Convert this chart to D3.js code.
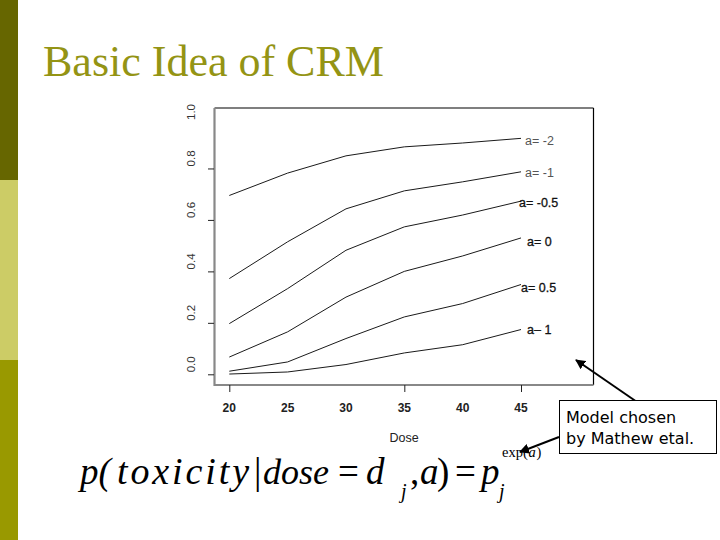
<!DOCTYPE html>
<html><head><meta charset="utf-8">
<script src="https://cdn.jsdelivr.net/npm/d3@7"></script>
<style>body{margin:0;background:#fff}svg{display:block}</style>
</head><body>
<script>
// ---- data ----
const doses = [20, 25, 30, 35, 40, 45];
const seriesNames = ["a= -2", "a= -1", "a= -0.5", "a= 0", "a= 0.5", "a\u2013 1"];
const sA_m2  = [0.695, 0.782, 0.849, 0.884, 0.899, 0.917];
const sA_m1  = [0.372, 0.515, 0.643, 0.713, 0.748, 0.787];
const sA_m05 = [0.197, 0.333, 0.482, 0.573, 0.619, 0.673];
const sA_0   = [0.067, 0.165, 0.300, 0.400, 0.460, 0.530];
const sA_05  = [0.012, 0.048, 0.139, 0.223, 0.275, 0.349];
const sA_1   = [0.001, 0.009, 0.038, 0.083, 0.115, 0.174];
const yTickLabels = ["0.0", "0.2", "0.4", "0.6", "0.8", "1.0"];
const yTickValues = [0, 0.2, 0.4, 0.6, 0.8, 1.0];
const xTickMarks = [20, 35, 45];

const allSeries = [sA_m2, sA_m1, sA_m05, sA_0, sA_05, sA_1];

const W = 720, H = 540;
const svg = d3.select("body").append("svg").attr("width", W).attr("height", H);

// left decorative bar
const bands = [{y0:0,y1:180,c:"#666600"},{y0:180,y1:360,c:"#CCCC66"},{y0:360,y1:540,c:"#999900"}];
svg.selectAll("rect.band").data(bands).enter().append("rect")
  .attr("x",0).attr("width",18).attr("y",d=>d.y0).attr("height",d=>d.y1-d.y0).attr("fill",d=>d.c);

// title
svg.append("text").attr("x",43).attr("y",76)
  .attr("font-family","'Liberation Serif','Times New Roman',serif").attr("font-size",44)
  .attr("fill","#949414").text("Basic Idea of CRM");

// scales
const x = d3.scaleLinear().domain([20,45]).range([229.3,521]);
const y = d3.scaleLinear().domain([0,1]).range([374.3,117]);

// plot box
const box = {l:214.5,r:593.5,t:108,b:385};
svg.append("line").attr("x1",box.l).attr("x2",box.r).attr("y1",box.t).attr("y2",box.t).attr("stroke","#000").attr("stroke-width",1.2);
svg.append("line").attr("x1",box.r).attr("x2",box.r).attr("y1",box.t).attr("y2",box.b).attr("stroke","#000").attr("stroke-width",1.2);
svg.append("line").attr("x1",box.l).attr("x2",box.l).attr("y1",box.t).attr("y2",box.b+1).attr("stroke","#888").attr("stroke-width",2.2);
svg.append("line").attr("x1",box.l).attr("x2",box.r).attr("y1",box.b).attr("y2",box.b).attr("stroke","#888").attr("stroke-width",2.2);

// y axis ticks
const yAxis = d3.axisLeft(y).tickValues(yTickValues.slice(0,5)).tickSize(6).tickFormat("");
const gy = svg.append("g").attr("transform",`translate(${box.l-0.5},0)`).call(yAxis);
gy.select(".domain").remove();
gy.selectAll(".tick line").attr("stroke","#222");

// y tick labels (rotated), clipped at top
svg.append("clipPath").attr("id","yclip").append("rect").attr("x",150).attr("y",104).attr("width",60).attr("height",320);
svg.append("g").attr("clip-path","url(#yclip)")
  .selectAll("text").data(yTickValues).enter().append("text")
  .attr("transform",(d)=>`translate(191,${y(d)-(d===1?5:10)}) rotate(-90)`)
  .attr("text-anchor","middle").attr("dy","0.35em")
  .attr("font-family","'Liberation Sans',Arial,sans-serif").attr("font-size",11.5)
  .attr("fill","#333").text((d,i)=>yTickLabels[i]);

// x axis tick marks
const xAxis = d3.axisBottom(x).tickValues(xTickMarks).tickSize(7).tickFormat("");
const gx = svg.append("g").attr("transform",`translate(0,${box.b})`).call(xAxis);
gx.select(".domain").remove();
gx.selectAll(".tick line").attr("stroke","#222");

// x tick labels
svg.append("g").selectAll("text").data(doses).enter().append("text")
  .attr("x",d=>x(d)).attr("y",412).attr("text-anchor","middle")
  .attr("font-family","'Liberation Sans',Arial,sans-serif").attr("font-size",12)
  .attr("font-weight","bold").attr("fill","#222").text(d=>d);

svg.append("text").attr("x",404).attr("y",442).attr("text-anchor","middle")
  .attr("font-family","'Liberation Sans',Arial,sans-serif").attr("font-size",12.5)
  .attr("fill","#222").text("Dose");

// lines
const line = d3.line().x((d,i)=>x(doses[i])).y(d=>y(d));
svg.append("g").selectAll("path").data(allSeries).enter().append("path")
  .attr("d",line).attr("fill","none").attr("stroke","#1a1a1a").attr("stroke-width",1);

// series labels
const labelPos = [{x:525,y:141,c:"#555",b:false},{x:525,y:173,c:"#555",b:false},
  {x:519,y:203,c:"#111",b:true},{x:527,y:242,c:"#111",b:true},
  {x:521,y:288,c:"#111",b:true},{x:527,y:330,c:"#111",b:true}];
svg.append("g").selectAll("text").data(seriesNames).enter().append("text")
  .attr("x",(d,i)=>labelPos[i].x).attr("y",(d,i)=>labelPos[i].y).attr("dy","0.35em")
  .attr("font-family","'Liberation Sans',Arial,sans-serif").attr("font-size",12.5)
  .attr("stroke",(d,i)=>labelPos[i].b?"#111":"none").attr("stroke-width",0.3)
  .attr("fill",(d,i)=>labelPos[i].c).text(d=>d);

// arrows
const defs = svg.append("defs");
defs.append("marker").attr("id","ah").attr("viewBox","0 0 10 10").attr("refX",9).attr("refY",5)
  .attr("markerWidth",5).attr("markerHeight",5).attr("orient","auto")
  .append("path").attr("d","M0,0 L10,5 L0,10 z").attr("fill","#000");
svg.append("line").attr("x1",637).attr("y1",402).attr("x2",576).attr("y2",360)
  .attr("stroke","#000").attr("stroke-width",2).attr("marker-end","url(#ah)");
svg.append("line").attr("x1",559).attr("y1",437).attr("x2",520).attr("y2",452)
  .attr("stroke","#000").attr("stroke-width",2).attr("marker-end","url(#ah)");

// callout box
svg.append("rect").attr("x",559.5).attr("y",400.5).attr("width",157).attr("height",53)
  .attr("fill","#fff").attr("stroke","#000").attr("stroke-width",1);
const ct = svg.append("text").attr("font-family","'DejaVu Sans',Verdana,sans-serif").attr("font-size",16).attr("fill","#000");
ct.append("tspan").attr("x",566).attr("y",423).text("Model chosen");
ct.append("tspan").attr("x",566).attr("y",444).text("by Mathew etal.");

// formula
const ff = "'Liberation Serif','Times New Roman',serif";
const pieces = [
  {t:"p(",x:80,y:484,s:37,it:true},
  {t:"toxicity",x:117,y:484,s:38,it:true,len:132},
  {t:"|",x:254,y:484,s:37,it:false},
  {t:"dose",x:263,y:484,s:36,it:true},
  {t:"=",x:338,y:484,s:37,it:false},
  {t:"d",x:366,y:484,s:37,it:true},
  {t:"j",x:401,y:498,s:20,it:true},
  {t:",",x:410,y:484,s:37,it:false},
  {t:"a",x:420,y:484,s:37,it:true},
  {t:")",x:437,y:484,s:37,it:false},
  {t:"=",x:455,y:484,s:37,it:false},
  {t:"p",x:481,y:484,s:37,it:true},
  {t:"j",x:499,y:498,s:20,it:true},
  {t:"exp(",x:502,y:457,s:14.5,it:false},
  {t:"a",x:528.5,y:457,s:14.5,it:true},
  {t:")",x:536.5,y:457,s:14.5,it:false}
];
const fg = svg.append("g");
pieces.forEach(p=>{
  const t = fg.append("text").attr("x",p.x).attr("y",p.y).attr("font-family",ff)
    .attr("font-size",p.s).attr("font-style",p.it?"italic":"normal").attr("fill","#000").text(p.t);
  if(p.len) t.attr("textLength",p.len).attr("lengthAdjust","spacing");
});
</script>
</body></html>
